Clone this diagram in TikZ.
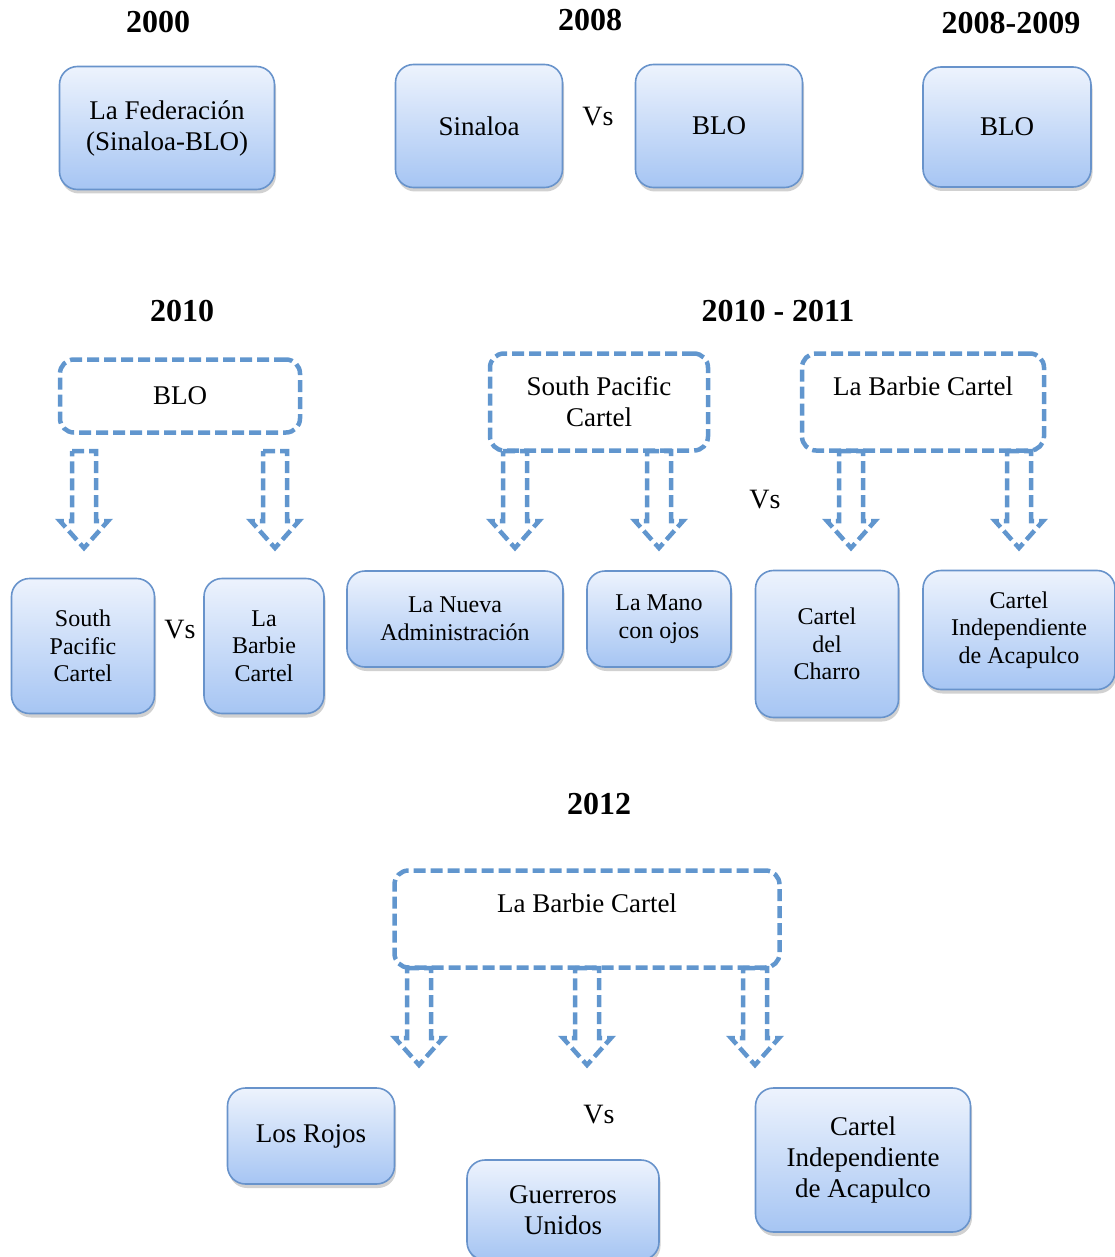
\documentclass[tikz,border=0pt]{standalone}
\usepackage{fontspec}
\setmainfont{Liberation Serif}
\usetikzlibrary{shadows}
\definecolor{boxtop}{HTML}{EDF3FD}
\definecolor{boxbot}{HTML}{A6C5F3}
\definecolor{boxline}{HTML}{6893CB}
\definecolor{dashblue}{HTML}{6196CE}
\tikzset{
  solidbox/.style={draw=boxline, line width=1.6pt, rounded corners=18pt,
    top color=boxtop, bottom color=boxbot, align=center, inner sep=0pt,
    drop shadow={shadow xshift=1.5pt, shadow yshift=-4pt, opacity=0.3, fill=black!60}},
  dashbox/.style={draw=dashblue, line width=4.5pt, dash pattern=on 12pt off 5pt,
    rounded corners=14pt, align=center, inner sep=0pt},
  yearlabel/.style={font=\fontsize{32}{36}\selectfont\bfseries},
  vslabel/.style={font=\fontsize{28}{32}\selectfont},
  bigtext/.style={font=\fontsize{27}{31}\selectfont},
  smalltext/.style={font=\fontsize{24}{27.5}\selectfont},
  blockarrow/.pic={
    \draw[draw=dashblue, line width=4.5pt, dash pattern=on 12pt off 5pt]
      (-12,0) -- (12,0) -- (12,70) -- (24,70) -- (0,97) -- (-24,70) -- (-12,70) -- cycle;
  }
}
\begin{document}
\begin{tikzpicture}[x=1pt,y=-1pt]
        \useasboundingbox (0,0) rectangle (1115,1257);
        % years
        \node[yearlabel] (y2000) at (158,22) {2000};
        \node[yearlabel] (y2008) at (590,20) {2008};
        \node[yearlabel] (y0809) at (1011,23) {2008-2009};
        \node[yearlabel] (y2010) at (182,311) {2010};
        \node[yearlabel] (y1011) at (778,311) {2010 - 2011};
        \node[yearlabel] (y2012) at (599,804) {2012};
        % 2000 - 2009
        \node[solidbox, bigtext, minimum width=215pt, minimum height=123pt] (fed) at (167,128) {La Federación\\(Sinaloa-BLO)};
        \node[solidbox, bigtext, minimum width=167pt, minimum height=123pt] (sin) at (479,126) {Sinaloa};
        \node[vslabel] (vsa) at (598,117) {Vs};
        \node[solidbox, bigtext, minimum width=167pt, minimum height=123pt] (bloa) at (719,126) {BLO};
        \node[solidbox, bigtext, minimum width=168pt, minimum height=120pt] (blob) at (1007,127) {BLO};
        % 2010
        \node[dashbox, bigtext, minimum width=240pt, minimum height=73pt] (bloc) at (180,396) {BLO};
        \node[solidbox, smalltext, minimum width=143pt, minimum height=135pt] (spca) at (83,646) {South\\Pacific\\Cartel};
        \node[vslabel] (vsb) at (180,630) {Vs};
        \node[solidbox, smalltext, minimum width=120pt, minimum height=135pt] (lbca) at (264,646) {La\\Barbie\\Cartel};
        % 2010 - 2011
        \node[dashbox, bigtext, minimum width=218pt, minimum height=97pt] (spcb) at (599,402) {South Pacific\\Cartel};
        \node[dashbox, minimum width=242pt, minimum height=97pt,
          label={[bigtext, anchor=north, yshift=-22pt]north:La Barbie Cartel}] (lbcb) at (923,402) {};
        \node[vslabel] (vsc) at (765,500) {Vs};
        \node[solidbox, smalltext, minimum width=216pt, minimum height=96pt] (nueva) at (455,619) {La Nueva\\Administración};
        \node[solidbox, smalltext, minimum width=144pt, minimum height=96pt] (mano) at (659,619) {La Mano\\con ojos};
        \node[solidbox, smalltext, minimum width=143pt, minimum height=147pt] (charro) at (827,644) {Cartel\\del\\Charro};
        \node[solidbox, smalltext, minimum width=192pt, minimum height=119pt] (acapa) at (1019,630) {Cartel\\Independiente\\de Acapulco};
        % 2012
        \node[dashbox, minimum width=385pt, minimum height=97pt,
          label={[bigtext, anchor=north, yshift=-22pt]north:La Barbie Cartel}] (lbcc) at (587,919) {};
        \node[vslabel] (vsd) at (599,1115) {Vs};
        \node[solidbox, bigtext, minimum width=167pt, minimum height=96pt] (rojos) at (311,1136) {Los Rojos};
        \node[solidbox, bigtext, minimum width=192pt, minimum height=100pt] (guerr) at (563,1210) {Guerreros\\Unidos};
        \node[solidbox, bigtext, minimum width=215pt, minimum height=144pt] (acapb) at (863,1160) {Cartel\\Independiente\\de Acapulco};
        % split arrows
        \foreach \ax/\ay in {84/451, 275/451, 515/451, 659/451, 851/451, 1019/451, 419/968, 587/968, 755/968}{
            \pic at (\ax,\ay) {blockarrow};
        }
\end{tikzpicture}
\end{document}
